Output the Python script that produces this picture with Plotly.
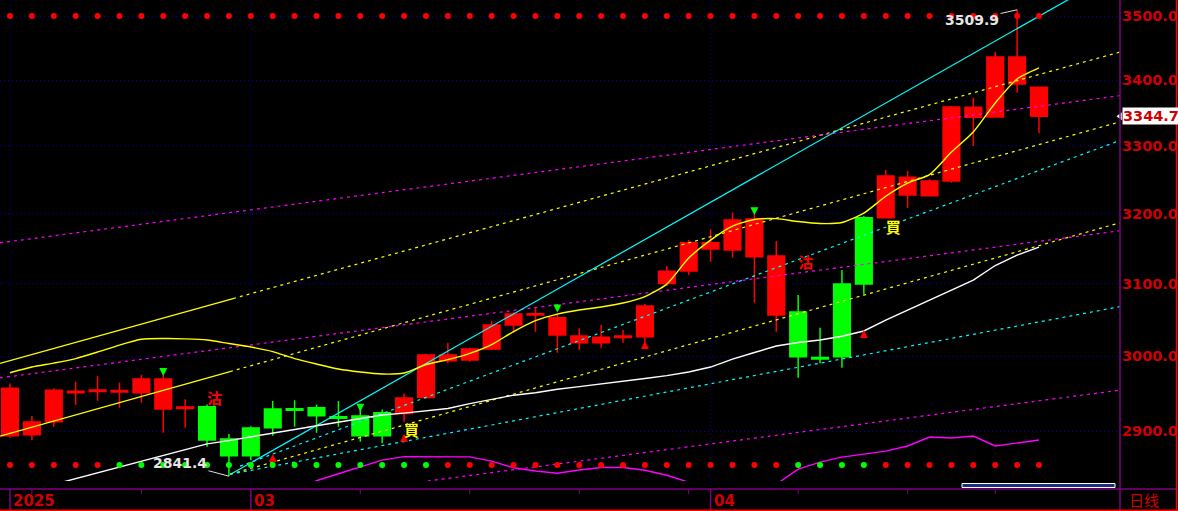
import numpy as np
import plotly.graph_objects as go

# ---------------- data ----------------
candle_idx = list(range(48))
k_open = [2957.0, 2911.9, 2954.3, 2953.0, 2954.4, 2954.0, 2969.2, 2969.2, 2931.8, 2888.3,
          2867.8, 2867.8, 2904.4, 2927.7, 2920.2, 2917.1, 2893.9, 2893.9, 2944.0, 3001.6,
          3001.6, 3009.9, 3042.7, 3057.9, 3058.5, 3052.8, 3027.7, 3025.9, 3027.7, 3069.1,
          3117.7, 3158.3, 3158.3, 3190.9, 3192.4, 3139.4, 2999.3, 2996.2, 2999.3, 3099.7,
          3255.2, 3253.3, 3247.8, 3358.7, 3358.3, 3435.7, 3435.7, 3388.8]
k_close = [2893.9, 2895.2, 2912.3, 2951.0, 2952.4, 2952.0, 2950.7, 2929.1, 2929.8, 2932.1,
           2889.6, 2904.0, 2929.1, 2929.7, 2930.8, 2919.1, 2919.8, 2924.2, 2923.4, 2944.6,
           2993.9, 2994.9, 3009.9, 3042.7, 3056.5, 3029.0, 3018.5, 3018.5, 3025.7, 3026.7,
           3100.7, 3118.1, 3149.3, 3147.9, 3138.4, 3056.5, 3060.7, 2998.2, 3099.7, 3194.3,
           3194.3, 3227.3, 3226.3, 3247.8, 3343.0, 3343.5, 3393.9, 3344.7]
k_high = [2963.4, 2919.8, 2957.0, 2965.5, 2973.2, 2964.7, 2974.6, 2976.9, 2942.3, 2935.3,
          2896.1, 2906.5, 2939.7, 2941.0, 2935.3, 2939.7, 2930.4, 2928.7, 2949.9, 3003.0,
          3018.5, 3011.6, 3048.2, 3060.3, 3066.7, 3058.8, 3038.2, 3042.7, 3035.9, 3071.9,
          3125.2, 3162.2, 3177.6, 3202.0, 3203.9, 3160.8, 3084.4, 3039.0, 3119.5, 3196.7,
          3264.1, 3262.6, 3250.7, 3360.2, 3372.9, 3443.9, 3509.9, 3388.8]
k_low = [2891.3, 2888.3, 2905.7, 2934.4, 2940.1, 2930.8, 2937.4, 2897.8, 2904.4, 2879.5,
         2841.4, 2862.0, 2893.9, 2905.7, 2897.8, 2905.7, 2886.1, 2884.0, 2912.3, 2943.0,
         2990.4, 2992.6, 3008.5, 3032.2, 3033.6, 3004.8, 3008.5, 3011.5, 3018.5, 3011.5,
         3096.9, 3112.5, 3131.3, 3137.0, 3073.7, 3033.6, 2971.0, 2990.4, 2984.5, 3085.4,
         3194.3, 3208.5, 3226.3, 3245.3, 3299.7, 3343.5, 3380.5, 3318.9]

ma_yellow = [2977.7, 2985.4, 2990.8, 2996.9, 3005.8, 3015.3, 3023.2, 3024.2, 3023.8, 3022.2,
             3017.4, 3012.6, 3006.4, 2996.9, 2989.5, 2982.7, 2978.7, 2976.0, 2977.3, 2988.8,
             2995.5, 3004.0, 3016.0, 3033.8, 3048.9, 3057.9, 3063.5, 3067.7, 3073.3, 3082.3,
             3099.7, 3136.5, 3162.2, 3182.3, 3191.7, 3193.1, 3188.8, 3186.0, 3187.4, 3201.0,
             3225.6, 3244.9, 3257.4, 3290.8, 3320.9, 3364.8, 3401.6, 3418.6]
ma_white = [2816.0, 2823.5, 2831.0, 2838.0, 2845.6, 2853.1, 2860.8, 2868.7, 2876.5, 2883.3,
            2887.6, 2892.2, 2897.4, 2902.2, 2907.1, 2911.9, 2917.2, 2921.2, 2923.8, 2926.5,
            2929.8, 2936.4, 2942.3, 2947.6, 2950.9, 2955.6, 2959.0, 2962.4, 2966.0, 2969.9,
            2973.9, 2978.7, 2985.4, 2996.2, 3005.1, 3014.0, 3018.8, 3022.2, 3027.3, 3034.6,
            3049.6, 3063.5, 3077.4, 3091.2, 3105.4, 3125.9, 3140.7, 3152.2]
ind_magenta = [None] * 13 + [
    2823.3, 2835.5, 2844.5, 2853.7, 2862.1, 2866.7, 2866.7, 2867.1, 2866.4, 2860.8,
    2852.3, 2848.0, 2845.2, 2849.3, 2852.6, 2852.6, 2849.1, 2842.6, 2833.6, 2823.0,
    2820.8, 2823.0, 2831.0, 2850.4, 2859.5, 2866.0, 2870.0, 2873.9, 2880.5, 2892.2,
    2890.9, 2893.5, 2880.5, 2884.0, 2888.3]

top_signal = ['r'] * 48
bottom_signal = ['r'] * 5 + ['g'] * 15 + ['r'] * 16 + ['g'] * 4 + ['r'] * 8

# drawn trend lines: (x0, y0, x1, y1, colour, dash)
trend_lines = [
    (-0.457, 2990.4, 10.19, 3079.5, '#ffff00', 'solid'),
    (10.19, 3079.5, 50.70, 3443.4, '#ffff00', '3px,4px'),
    (-0.457, 2893.5, 10.05, 2979.3, '#ffff00', 'solid'),
    (10.05, 2979.3, 50.70, 3336.2, '#ffff00', '3px,4px'),
    (-0.457, 3158.2, 50.70, 3376.0, '#ff00ff', '3px,4px'),
    (-0.457, 2970.8, 50.70, 3175.6, '#ff00ff', '3px,4px'),
    (17.81, 2830.5, 50.70, 2954.3, '#ff00ff', '3px,4px'),
    (10.05, 2843.5, 48.42, 3527.7, '#00ffff', 'solid'),
    (10.51, 2854.3, 50.70, 3308.2, '#00ffff', '3px,4px'),
    (10.05, 2843.9, 50.70, 3187.1, '#ffff00', '3px,4px'),
    (10.05, 2843.9, 50.70, 3068.2, '#00ffff', '3px,4px'),
]

up_arrow_idx = [12, 18, 29, 39]
up_arrow_price = [2870.0, 2896.7, 3020.8, 3035.9]
down_arrow_idx = [7, 16, 25, 34]
down_arrow_price = [2973.2, 2925.5, 3060.0, 3198.0]

sell_idx = [9, 36]
sell_price = [2941.0, 3128.0]
buy_idx = [18, 40]
buy_price = [2898.0, 3178.0]

month_labels = ['2025', '03', '04']
month_pos = [0, 11, 32]
week_ticks = [1, 6, 16, 21, 26, 31, 36, 41, 45]
y_ticks = [2900, 3000, 3100, 3200, 3300, 3400, 3500]
last_price = 3344.7
high_mark = (46, 3509.9)
low_mark = (10, 2841.4)

# ---------------- styling / layout ----------------
W, H = 1178, 511
PLOT_R, PLOT_B = 1120, 481
X_RANGE = [-0.457, 50.70]
Y_RANGE = [2835.2, 3525.5]
RED = '#ff0000'
GREEN = '#00ff00'
AXRED = '#d00000'
PURPLE = '#800080'
GRID = '#0000b0'
NUMFONT = 'DejaVu Sans'


def py(pix):
    return (PLOT_B - pix) / PLOT_B


def px(pix):
    return pix / PLOT_R


fig = go.Figure()

fig.add_trace(go.Candlestick(
    x=candle_idx, open=k_open, high=k_high, low=k_low, close=k_close,
    increasing=dict(line=dict(color=GREEN, width=1.5), fillcolor=GREEN),
    decreasing=dict(line=dict(color=RED, width=1.5), fillcolor=RED),
    whiskerwidth=0, hoverinfo='skip', showlegend=False))

for x0, y0, x1, y1, col, dash in trend_lines:
    fig.add_trace(go.Scatter(x=[x0, x1], y=[y0, y1], mode='lines',
                             line=dict(color=col, width=1.2, dash=dash),
                             hoverinfo='skip', showlegend=False))

fig.add_trace(go.Scatter(x=candle_idx, y=ind_magenta, mode='lines',
                         line=dict(color='#ff00ff', width=1.4), hoverinfo='skip', showlegend=False))
fig.add_trace(go.Scatter(x=candle_idx, y=ma_white, mode='lines',
                         line=dict(color='#ffffff', width=1.4), hoverinfo='skip', showlegend=False))
fig.add_trace(go.Scatter(x=candle_idx, y=ma_yellow, mode='lines',
                         line=dict(color='#ffff00', width=1.4, shape='spline', smoothing=0.6),
                         hoverinfo='skip', showlegend=False))

cmap = {'r': RED, 'g': GREEN}
fig.add_trace(go.Scatter(x=candle_idx, y=[py(16)] * 48, yaxis='y2', mode='markers',
                         marker=dict(color=[cmap[c] for c in top_signal], size=6),
                         hoverinfo='skip', showlegend=False))
fig.add_trace(go.Scatter(x=candle_idx, y=[py(465)] * 48, yaxis='y2', mode='markers',
                         marker=dict(color=[cmap[c] for c in bottom_signal], size=6),
                         hoverinfo='skip', showlegend=False))

fig.add_trace(go.Scatter(x=up_arrow_idx, y=up_arrow_price, mode='markers',
                         marker=dict(symbol='arrow-up', color=RED, size=8, line=dict(width=0)),
                         hoverinfo='skip', showlegend=False))
fig.add_trace(go.Scatter(x=down_arrow_idx, y=down_arrow_price, mode='markers',
                         marker=dict(symbol='arrow-down', color=GREEN, size=8, line=dict(width=0)),
                         hoverinfo='skip', showlegend=False))

fig.add_trace(go.Scatter(x=sell_idx, y=sell_price, mode='text', text=['沽'] * len(sell_idx),
                         textposition='middle right',
                         textfont=dict(family='Noto Sans CJK SC', size=15, color=RED, weight='bold'),
                         hoverinfo='skip', showlegend=False))
fig.add_trace(go.Scatter(x=buy_idx, y=buy_price, mode='text', text=['買'] * len(buy_idx),
                         textposition='middle right',
                         textfont=dict(family='Noto Sans CJK SC', size=15, color='#ffff00', weight='bold'),
                         hoverinfo='skip', showlegend=False))

# notch of last-price box
fig.add_trace(go.Scatter(x=[X_RANGE[1]], y=[last_price], mode='markers', cliponaxis=False,
                         marker=dict(symbol='triangle-left', color='white', size=7),
                         hoverinfo='skip', showlegend=False))

shapes = []
for m in month_pos:
    shapes.append(dict(type='line', xref='x', x0=m, x1=m, yref='paper', y0=py(486), y1=1,
                       line=dict(color=GRID, width=1, dash='1px,3px'), layer='below'))
    shapes.append(dict(type='line', xref='x', x0=m, x1=m, yref='paper', y0=py(489), y1=py(511),
                       line=dict(color=PURPLE, width=1.5)))
for w in week_ticks:
    shapes.append(dict(type='line', xref='x', x0=w, x1=w, yref='paper', y0=py(489), y1=py(494),
                       line=dict(color=PURPLE, width=1)))
shapes += [
    dict(type='line', xref='paper', x0=0, x1=px(1177), yref='paper', y0=py(489), y1=py(489),
         line=dict(color=PURPLE, width=1.5)),
    dict(type='line', xref='paper', x0=1, x1=1, yref='paper', y0=py(511), y1=1,
         line=dict(color=PURPLE, width=1.5)),
    dict(type='line', xref='paper', x0=px(1176.5), x1=px(1176.5), yref='paper', y0=py(511), y1=1,
         line=dict(color=RED, width=1.5)),
    dict(type='line', xref='paper', x0=0, x1=px(1178), yref='paper', y0=py(510.2), y1=py(510.2),
         line=dict(color=RED, width=1.5)),
    dict(type='rect', xref='paper', x0=px(962), x1=px(1115), yref='paper', y0=py(487.5), y1=py(483.5),
         fillcolor='#1a2f80', line=dict(color='white', width=1)),
]

annotations = []
for lab, m in zip(month_labels, month_pos):
    annotations.append(dict(text=lab, xref='x', x=m, xanchor='left', xshift=1,
                            yref='paper', y=py(501), yanchor='middle', showarrow=False,
                            font=dict(family=NUMFONT, size=15, color=AXRED, weight='bold')))
annotations.append(dict(text='日线', xref='paper', x=px(1127), xanchor='left',
                        yref='paper', y=py(499.5), yanchor='middle', showarrow=False,
                        font=dict(family='Noto Sans CJK SC', size=15, color=AXRED)))
annotations.append(dict(text=f'{last_price:.1f}', xref='paper', x=px(1122), xanchor='left',
                        yref='y', y=np.log10(last_price), yanchor='middle', showarrow=False,
                        bgcolor='white', borderpad=0,
                        font=dict(family=NUMFONT, size=14.5, color=AXRED, weight='bold')))
annotations.append(dict(text=f'{high_mark[1]:.1f}', x=high_mark[0], y=np.log10(high_mark[1]),
                        xref='x', yref='y', showarrow=True, arrowhead=0, arrowwidth=1,
                        arrowcolor='#e0e0e0', ax=-45, ay=10, standoff=0,
                        font=dict(family=NUMFONT, size=14, color='#e6e6e6', weight='bold')))
annotations.append(dict(text=f'{low_mark[1]:.1f}', x=low_mark[0], y=np.log10(low_mark[1]),
                        xref='x', yref='y', showarrow=True, arrowhead=0, arrowwidth=1,
                        arrowcolor='#e0e0e0', ax=-49, ay=-13, standoff=0,
                        font=dict(family=NUMFONT, size=14, color='#e6e6e6', weight='bold')))

fig.update_layout(
    width=W, height=H,
    margin=dict(l=0, r=W - PLOT_R, t=0, b=H - PLOT_B, pad=0),
    paper_bgcolor='black', plot_bgcolor='black', showlegend=False,
    boxgap=0.24, boxgroupgap=0,
    xaxis=dict(range=X_RANGE, showgrid=False, zeroline=False, showticklabels=False,
               ticks='', showline=False, rangeslider=dict(visible=False)),
    yaxis=dict(type='log', range=[np.log10(Y_RANGE[0]), np.log10(Y_RANGE[1])], side='right',
               tickvals=y_ticks, ticktext=[f'{v:.1f}' for v in y_ticks], ticks='',
               ticklabelstandoff=1,
               tickfont=dict(family=NUMFONT, size=14.5, color=AXRED, weight='bold'),
               showgrid=True, gridcolor=GRID, gridwidth=1, griddash='1px,3px',
               zeroline=False, showline=False),
    yaxis2=dict(overlaying='y', range=[0, 1], visible=False),
    shapes=shapes, annotations=annotations,
)

fig.write_html("out.html", config={'displayModeBar': False},
               post_script="document.body.style.margin='0px';")
